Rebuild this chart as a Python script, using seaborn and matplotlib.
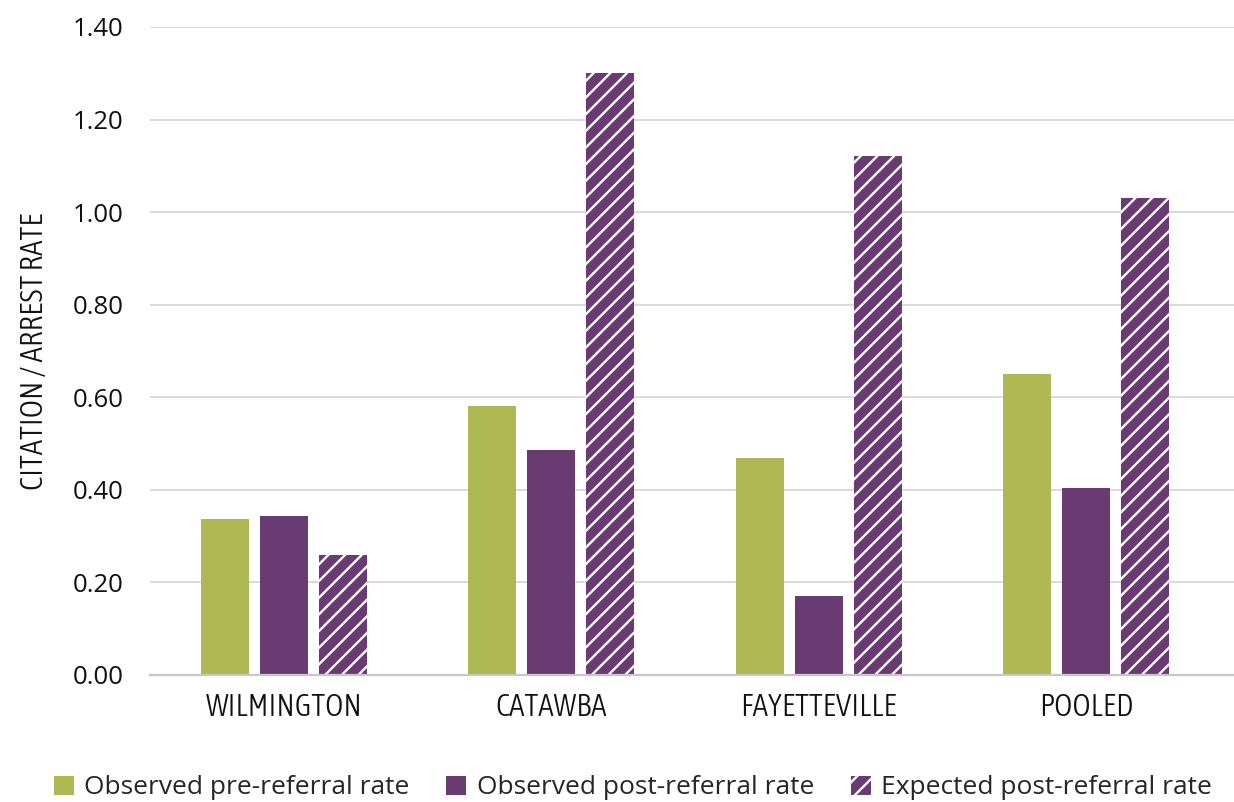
import matplotlib
matplotlib.use("Agg")
import matplotlib.pyplot as plt
from matplotlib import font_manager
from matplotlib.font_manager import FontProperties
from matplotlib.patches import Patch
import seaborn as sns
import pandas as pd

# Citation / arrest rates by site
sites = ["WILMINGTON", "CATAWBA", "FAYETTEVILLE", "POOLED"]
series = ["Observed pre-referral rate", "Observed post-referral rate", "Expected post-referral rate"]
pre_referral = [0.338, 0.581, 0.469, 0.650]
post_referral = [0.344, 0.486, 0.171, 0.404]
expected_post = [0.259, 1.300, 1.121, 1.031]
y_ticks = [0.0, 0.2, 0.4, 0.6, 0.8, 1.0, 1.2, 1.4]

GREEN = "#AFB852"
PURPLE = "#6A3B72"

sns.set_theme(style="white")
plt.rcParams["font.family"] = ["Open Sans", "DejaVu Sans"]
plt.rcParams["hatch.linewidth"] = 1.7


def _weight(w):
    if isinstance(w, (int, float)):
        return int(w)
    return font_manager.weight_dict.get(w, 400)


# Light, narrow face for the category and axis titles
narrow_faces = [
    f for f in font_manager.fontManager.ttflist
    if ("Condensed" in f.name or "Narrow" in f.name
        or f.stretch in ("condensed", "semi-condensed", "extra-condensed"))
    and f.style == "normal"
]
if narrow_faces:
    best = min(narrow_faces, key=lambda f: abs(_weight(f.weight) - 300))
    title_font = FontProperties(fname=best.fname, size=22.5)
else:
    title_font = FontProperties(family=["Roboto", "DejaVu Sans"], weight="light", size=18.5)

df = pd.DataFrame({
    "site": sites * 3,
    "series": [series[0]] * 4 + [series[1]] * 4 + [series[2]] * 4,
    "rate": pre_referral + post_referral + expected_post,
})

fig = plt.figure(figsize=(12.34, 8.02), dpi=100)
ax = fig.add_axes([150 / 1234, (802 - 675) / 802, 1084 / 1234, 648 / 802])

sns.barplot(
    data=df, x="site", y="rate", hue="series", order=sites, hue_order=series,
    palette=[GREEN, PURPLE, PURPLE], width=0.662, gap=0.186,
    errorbar=None, legend=False, ax=ax, linewidth=0, saturation=1,
)

# Expected rates are drawn hatched with white diagonal stripes
for bar in ax.containers[2]:
    bar.set_hatch("//")
    bar.set_edgecolor("white")
    bar.set_linewidth(0)

ax.set_xlim(-0.5, 3.552)
ax.set_ylim(0, 1.4)
ax.set_yticks(y_ticks)
ax.set_yticklabels([f"{v:.2f}" for v in y_ticks], fontsize=18.5, color="#111111")
ax.yaxis.grid(True, color="#D4D4D4", linewidth=1.2)
ax.set_axisbelow(True)
ax.tick_params(axis="y", length=0, pad=19)
ax.tick_params(axis="x", length=0, pad=12)

ax.set_xticklabels(sites, color="#111111", fontproperties=title_font)
ax.set_xlabel("")
ax.set_ylabel("CITATION / ARREST RATE", color="#111111", labelpad=16,
              fontproperties=title_font)

for side in ["top", "right", "left"]:
    ax.spines[side].set_visible(False)
ax.spines["bottom"].set_color("#C8C8C8")
ax.spines["bottom"].set_linewidth(1.6)

handles = [
    Patch(facecolor=GREEN, edgecolor="none"),
    Patch(facecolor=PURPLE, edgecolor="none"),
    Patch(facecolor=PURPLE, edgecolor="white", linewidth=0, hatch="//"),
]
fig.legend(
    handles, series, loc="center", bbox_to_anchor=(0.513, (802 - 788) / 802),
    ncol=3, frameon=False, fontsize=19, handlelength=0.75, handleheight=0.75,
    handletextpad=0.4, columnspacing=1.4, borderaxespad=0, borderpad=0,
)

fig.savefig("out.png", dpi=100)
